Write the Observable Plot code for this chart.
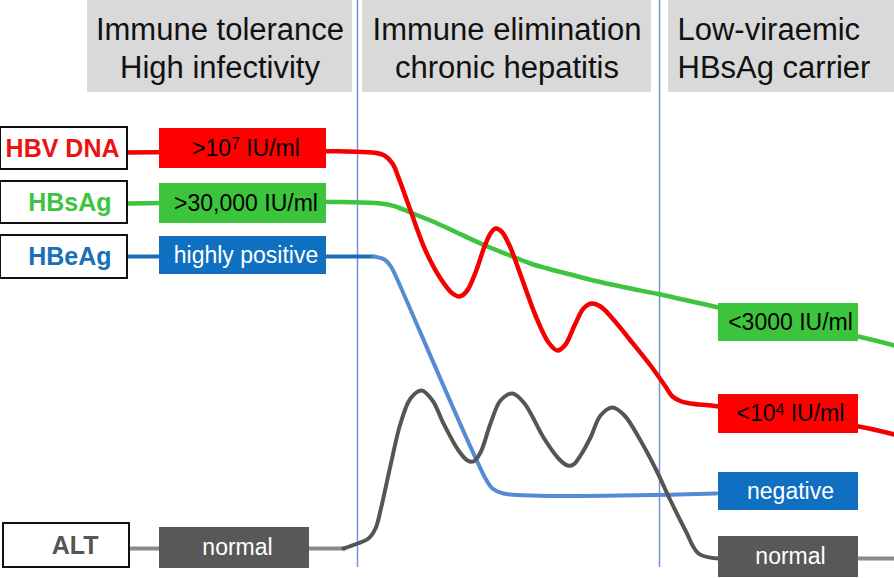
<!DOCTYPE html>
<html><head><meta charset="utf-8">
<script src="https://cdn.jsdelivr.net/npm/d3@7"></script>
<script src="https://cdn.jsdelivr.net/npm/@observablehq/plot@0.6"></script>
<style>body{margin:0;background:#fff}</style>
</head><body><div id="chart"></div>
<script>
// Phases (notional time axis 0..894, level axis 0..578 downward)
const phaseNames = [["Immune tolerance","High infectivity"],["Immune elimination","chronic hepatitis"],["Low-viraemic","HBsAg carrier"]];
const phaseStart = [87, 362, 668];
const phaseEnd = [352, 651, 894];
const phaseBoundaries = [357, 659];

// Markers
const markers = ["HBV DNA", "HBsAg", "HBeAg", "ALT"];
const initialLevels = [">10^7 IU/ml", ">30,000 IU/ml", "highly positive", "normal"];
const finalLevels = ["<10^4 IU/ml", "<3000 IU/ml", "negative", "normal"];

const markerBoxX = [[0,127],[0,127],[0,127],[3,129]];
const markerBoxY = [[127,169],[181,223],[235,278],[523,567]];
const markerLabelX = [119,111,111,98];
const initialBoxX = [[159,326],[159,326],[159,326],[159,309]];
const initialBoxY = [[128,168],[183,223],[236,274],[527,568]];
const finalBoxX = [[718,858],[718,858],[718,858],[718,858]];
const finalBoxY = [[394,433],[303,341],[472,510],[536,577]];

// Course of each marker over time
const hbvDna = [[127,152],[372,152],[384,155],[392,163],[398,177],[410,210],[425,250],[440,278],[452,293],[459,296],[466,291],[475,272],[484,246],[490,233],[495,228],[501,231],[509,245],[521,277],[535,315],[548,342],[557,350],[565,344],[574,325],[583,308],[591,303],[600,306],[612,318],[630,340],[650,365],[665,386],[672,396],[681,401],[690,403],[718,406],[858,426],[894,434]];
const hbsAg = [[127,203],[380,203],[395,206],[410,212],[430,220],[450,229],[480,243],[507,254],[530,263],[547,268],[570,274],[593,280],[625,287],[660,294],[718,307],[858,336],[894,345]];
const hbeAgHigh = [[127,256],[374,256]];
const hbeAgFall = [[373,256],[384,259],[391,267],[395,275],[485,478],[492,488],[503,493],[716,493]];
const altNormalStart = [[129,548],[344,548]];
const altCourse = [[343,548],[357,543],[368,538],[375,528],[380,510],[390,465],[400,423],[410,398],[421,390],[432,400],[443,423],[458,450],[467,460],[473,461],[480,452],[490,423],[500,400],[512,393],[524,403],[543,437],[558,458],[567,465],[573,464],[580,455],[590,437],[600,415],[612,407],[624,415],[640,440],[655,468],[670,500],[685,530],[698,553],[718,558]];
const altNormalEnd = [[858,558],[894,558]];

// Styles (kept separate from data)
const markerColor = ["#ee1111", "#3ec43e", "#1a6fb8", "#555555"];
const boxFill = ["#fe0000", "#3cc43c", "#0f6fc0", "#585858"];
const boxText = ["#000", "#000", "#fff", "#fff"];
const font = "'Liberation Sans', Arial, Helvetica, sans-serif";

const phases = phaseNames.map((lines, i) => ({i, x1: phaseStart[i], x2: phaseEnd[i]}));
const headerRows = phaseNames.flatMap((lines, i) => lines.map((t, j) => ({
  text: t, i, line: j,
  x: i === 2 ? phaseStart[i] + 9 : (phaseStart[i] + phaseEnd[i]) / 2,
  y: [39, 77][j]
})));
const rows = markers.map((m, i) => ({
  i, name: m, init: initialLevels[i], fin: finalLevels[i],
  mx1: markerBoxX[i][0], mx2: markerBoxX[i][1], my1: markerBoxY[i][0], my2: markerBoxY[i][1],
  ix1: initialBoxX[i][0], ix2: initialBoxX[i][1], iy1: initialBoxY[i][0], iy2: initialBoxY[i][1],
  fx1: finalBoxX[i][0], fx2: finalBoxX[i][1], fy1: finalBoxY[i][0], fy2: finalBoxY[i][1],
  lx: markerLabelX[i]
}));

const lineMark = (pts, stroke, w) => Plot.line(pts, {x: d => d[0], y: d => d[1], stroke, strokeWidth: w, curve: "catmull-rom", strokeLinejoin: "round"});

const chart = Plot.plot({
  width: 894, height: 578,
  marginTop: 0, marginRight: 0, marginBottom: 0, marginLeft: 0,
  x: {domain: [0, 894], range: [0, 894], axis: null},
  y: {domain: [0, 578], range: [0, 578], axis: null},
  style: {fontFamily: font, background: "#fff"},
  color: {type: "identity"},
  marks: [
    Plot.rect(phases, {x1: "x1", x2: "x2", y1: 0, y2: 92, fill: "#d9d9d9"}),
    Plot.text(headerRows.filter(d => d.i !== 2), {x: "x", y: "y", text: "text", fontSize: 31, fill: "#111", lineAnchor: "bottom", textAnchor: "middle"}),
    Plot.text(headerRows.filter(d => d.i === 2), {x: "x", y: "y", text: "text", fontSize: 31, fill: "#111", lineAnchor: "bottom", textAnchor: "start"}),
    Plot.ruleX(phaseBoundaries, {y1: 0, y2: 567, stroke: "#6f96d2", strokeWidth: 1.5}),
    lineMark(hbsAg, "#3ec43e", 4.5),
    lineMark(hbeAgHigh, "#1a6fb8", 4),
    lineMark(hbeAgFall, "#558bd2", 4),
    lineMark(altNormalStart, "#8a8a8a", 4),
    lineMark(altCourse, "#555555", 4),
    lineMark(altNormalEnd, "#8a8a8a", 4),
    lineMark(hbvDna, "#f40000", 4.5),
    Plot.rect(rows, {x1: "mx1", x2: "mx2", y1: "my1", y2: "my2", fill: "#fff", stroke: "#111", strokeWidth: 2}),
    Plot.text(rows, {x: "lx", y: d => (d.my1 + d.my2) / 2, text: "name", textAnchor: "end", fontSize: 25, fontWeight: "bold", fill: d => markerColor[d.i]}),
    Plot.rect(rows, {x1: "ix1", x2: "ix2", y1: "iy1", y2: "iy2", fill: d => boxFill[d.i]}),
    Plot.text(rows, {x: d => (d.ix1 + d.ix2) / 2 + 3, y: d => (d.iy1 + d.iy2) / 2, text: "init", fontSize: 23, fill: d => boxText[d.i]}),
    Plot.rect(rows, {x1: "fx1", x2: "fx2", y1: "fy1", y2: "fy2", fill: d => boxFill[d.i]}),
    Plot.text(rows, {x: d => (d.fx1 + d.fx2) / 2 + 2, y: d => (d.fy1 + d.fy2) / 2, text: "fin", fontSize: 23, fill: d => boxText[d.i]})
  ]
});
// Render "10^n" as a real superscript
chart.querySelectorAll("text").forEach(t => {
  const s = t.textContent;
  const m = s.match(/^(.*?)\^(\d)(.*)$/);
  if (!m) return;
  t.textContent = "";
  const ns = "http://www.w3.org/2000/svg";
  const a = document.createElementNS(ns, "tspan"); a.textContent = m[1];
  const b = document.createElementNS(ns, "tspan"); b.textContent = m[2];
  b.setAttribute("dy", "-0.42em"); b.setAttribute("font-size", "0.68em");
  const c = document.createElementNS(ns, "tspan"); c.textContent = m[3];
  c.setAttribute("dy", "0.29em");
  t.append(a, b, c);
});
document.getElementById("chart").append(chart);
</script>
</body></html>
